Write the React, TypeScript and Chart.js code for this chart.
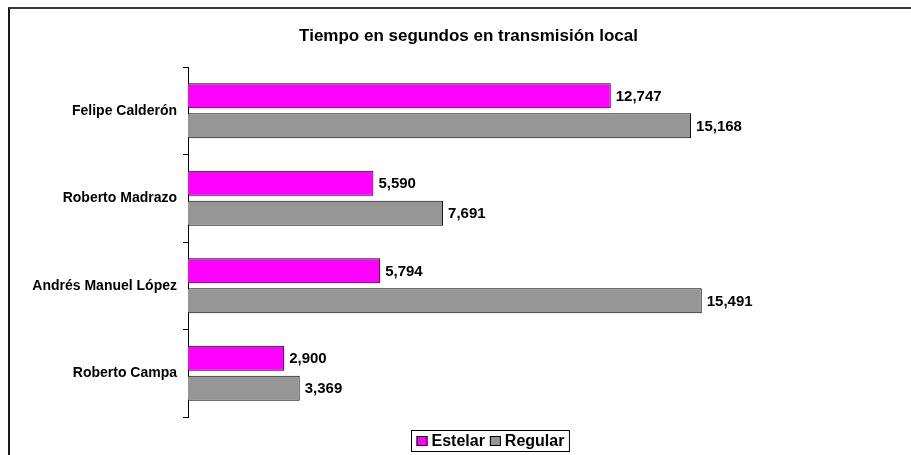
import React, { useEffect, useRef } from "react";
import { Chart, registerables } from "chart.js";

Chart.register(...registerables);

const categories = ["Felipe Calderón", "Roberto Madrazo", "Andrés Manuel López", "Roberto Campa"];
const estelar = [12747, 5590, 5794, 2900];
const regular = [15168, 7691, 15491, 3369];
const seriesNames = ["Estelar", "Regular"];
const seriesColors = ["#FF00FF", "#969696"];
const titleText = "Tiempo en segundos en transmisión local";

const FONT = "Arial, 'Liberation Sans', sans-serif";

const valueLabels = {
  id: "valueLabels",
  afterDatasetsDraw(chart: any) {
    const ctx = chart.ctx;
    ctx.save();
    ctx.font = `bold 15px ${FONT}`;
    ctx.fillStyle = "#000";
    ctx.textAlign = "left";
    ctx.textBaseline = "middle";
    chart.data.datasets.forEach((ds: any, di: number) => {
      const meta = chart.getDatasetMeta(di);
      meta.data.forEach((bar: any, i: number) => {
        const v = ds.data[i] as number;
        ctx.fillText(v.toLocaleString("en-US"), bar.x + 5, bar.y + 1);
      });
    });
    ctx.restore();
  },
};

const boxedLegend = {
  id: "boxedLegend",
  afterDraw(chart: any) {
    const ctx = chart.ctx;
    ctx.save();
    ctx.font = `bold 16px ${FONT}`;
    const items = chart.data.datasets.map((ds: any) => ({
      label: ds.label,
      color: ds.backgroundColor,
      w: ctx.measureText(ds.label).width,
    }));
    const sq = 11;
    const pad = 5;
    const gap = 4;
    const itemGap = 5;
    let total = pad * 2;
    items.forEach((it: any, k: number) => {
      total += sq + gap + it.w + (k < items.length - 1 ? itemGap : 0);
    });
    const cx = 490;
    const top = chart.chartArea.bottom + 13;
    const h = 21;
    const left = Math.round(cx - total / 2) + 0.5;
    ctx.strokeStyle = "#000";
    ctx.lineWidth = 1;
    ctx.strokeRect(left, top + 0.5, total, h);
    let x = left + pad;
    const midY = top + h / 2 + 0.5;
    items.forEach((it: any) => {
      ctx.fillStyle = it.color;
      ctx.fillRect(x, midY - 5, sq, 10);
      ctx.strokeRect(x + 0.5, midY - 5 + 0.5, sq - 1, 9);
      x += sq + gap;
      ctx.fillStyle = "#000";
      ctx.textBaseline = "middle";
      ctx.textAlign = "left";
      ctx.fillText(it.label, x, midY + 1);
      x += it.w + itemGap;
    });
    ctx.restore();
  },
};

export default function App() {
  const ref = useRef<HTMLCanvasElement>(null);
  useEffect(() => {
    if (!ref.current) return;
    const chart = new Chart(ref.current, {
      type: "bar",
      data: {
        labels: categories,
        datasets: [
          {
            label: seriesNames[0],
            data: estelar,
            backgroundColor: seriesColors[0],
            borderColor: "#000",
            borderWidth: 1,
            categoryPercentage: 0.686,
            barPercentage: 0.833,
          },
          {
            label: seriesNames[1],
            data: regular,
            backgroundColor: seriesColors[1],
            borderColor: "#000",
            borderWidth: 1,
            categoryPercentage: 0.686,
            barPercentage: 0.833,
          },
        ],
      },
      options: {
        indexAxis: "y",
        responsive: false,
        animation: false,
        layout: { padding: { left: 26, right: 0, top: 0, bottom: 38 } },
        plugins: {
          legend: { display: false },
          tooltip: { enabled: false },
          title: {
            display: true,
            text: titleText,
            color: "#000",
            font: { family: FONT, size: 17, weight: "bold", lineHeight: 1.2 },
            padding: { top: 25.8, bottom: 20.8 },
          },
        },
        scales: {
          x: {
            display: false,
            min: 0,
            max: 21800,
          },
          y: {
            afterFit: (scale: any) => {
              scale.width = 162;
            },
            grid: {
              display: true,
              drawOnChartArea: false,
              drawTicks: true,
              tickLength: 5,
              color: "#000",
              offset: true,
            },
            border: { display: true, color: "#000", width: 1 },
            ticks: {
              color: "#000",
              padding: 6,
              font: { family: FONT, size: 14, weight: "bold" },
            },
          },
        },
      },
      plugins: [valueLabels, boxedLegend],
    });
    return () => chart.destroy();
  }, []);

  return (
    <div
      style={{
        position: "absolute",
        left: 0,
        top: 0,
        width: 911,
        height: 455,
        overflow: "hidden",
        background: "#fff",
      }}
    >
      <canvas ref={ref} width={911} height={455} style={{ position: "absolute", left: 0, top: 0 }} />
      <div
        style={{
          position: "absolute",
          left: 8,
          top: 7,
          width: 940,
          height: 480,
          borderTop: "2px solid #3a3a3a",
          borderLeft: "2px solid #1a1a1a",
          pointerEvents: "none",
        }}
      />
    </div>
  );
}
